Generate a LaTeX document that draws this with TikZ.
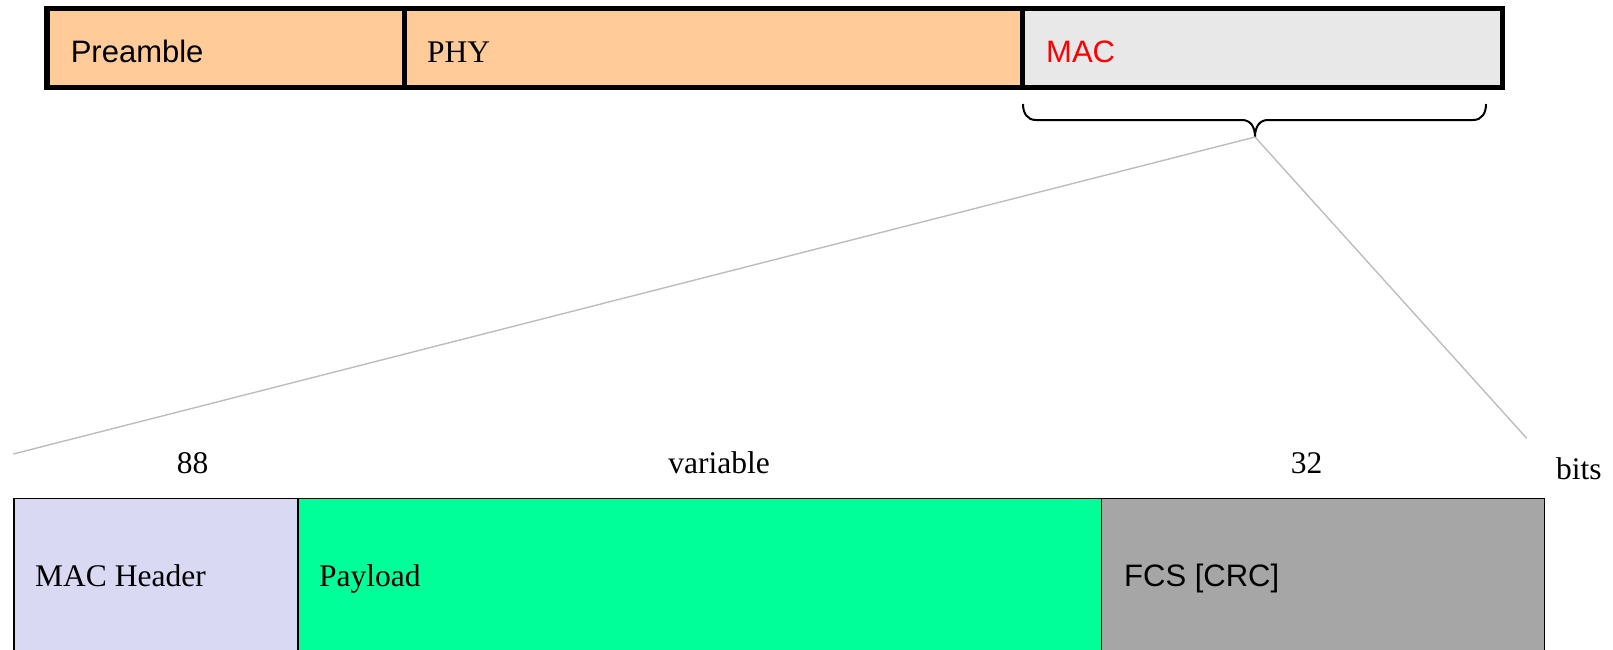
\documentclass[tikz,border=0pt]{standalone}
\usepackage{fontspec}
\setmainfont{Liberation Serif}
\newfontfamily\arialfont{Liberation Sans}
\definecolor{peach}{HTML}{FFCC99}
\definecolor{macgray}{HTML}{E8E8E8}
\definecolor{lavender}{HTML}{D9D9F4}
\definecolor{mint}{HTML}{00FF99}
\definecolor{fcsgray}{HTML}{A6A6A6}
\definecolor{linegray}{HTML}{BDBDBD}
\begin{document}
\begin{tikzpicture}[x=1pt,y=-1pt,
  topbox/.style={draw=black, line width=5.2pt, inner sep=0pt, outer sep=0pt, minimum height=78.8pt},
  botbox/.style={draw=black, line width=1.4pt, inner sep=0pt, outer sep=0pt, minimum height=171.7pt},
  sanslabel/.style={anchor=base west, inner sep=0pt, font=\arialfont\fontsize{31}{37}\selectfont},
  seriflabel/.style={anchor=base west, inner sep=0pt, font=\fontsize{31.5}{38}\selectfont},
  numlabel/.style={anchor=base, inner sep=0pt, font=\fontsize{31.5}{38}\selectfont},
  zoomline/.style={draw=linegray, line width=1.4pt},
  bracepath/.style={draw=black, line width=2pt}]
\clip (0,0) rectangle (1613,649);
% top frame
\node[topbox, fill=peach, minimum width=357.8pt] (pre) at (225.9,48.1) {};
\node[topbox, fill=peach, minimum width=617.9pt] (phy) at (713.75,48.1) {};
\node[topbox, fill=macgray, minimum width=479.8pt] (mac) at (1262.6,48.1) {};
\node[sanslabel] (tpre) at (70.6,62) {Preamble};
\node[seriflabel] (tphy) at (427,62) {PHY};
\node[sanslabel, text=red] (tmac) at (1046,62) {MAC};
% brace
\coordinate (tip) at (1255,137);
\draw[bracepath] (1023,104) .. controls (1023,113) and (1027,120) .. (1036,120) -- (1242,120)
  .. controls (1250,120) and (1255,126) .. (tip)
  .. controls (1255,126) and (1260,120) .. (1268,120) -- (1473,120)
  .. controls (1482,120) and (1486,113) .. (1486,104);
% zoom lines
\coordinate (lend) at (13.3,454);
\coordinate (rend) at (1526.7,438.3);
\draw[zoomline] (tip) -- (lend);
\draw[zoomline] (tip) -- (rend);
% bottom frame
\node[botbox, fill=lavender, minimum width=284pt] (hdr) at (156,584.15) {};
\node[botbox, fill=mint, minimum width=803.7pt] (pay) at (699.85,584.15) {};
\node[botbox, fill=fcsgray, minimum width=443pt] (fcs) at (1323.2,584.15) {};
\node[seriflabel] (thdr) at (35,586) {MAC Header};
\node[seriflabel] (tpay) at (319,586) {Payload};
\node[sanslabel] (tfcs) at (1124,586) {FCS [CRC]};
% sizes
\node[numlabel] (n88) at (192.7,473.3) {88};
\node[numlabel] (nvar) at (719.2,473.3) {variable};
\node[numlabel] (n32) at (1306.7,473.3) {32};
\node[seriflabel] (nbits) at (1556,479.3) {bits};
\end{tikzpicture}
\end{document}
